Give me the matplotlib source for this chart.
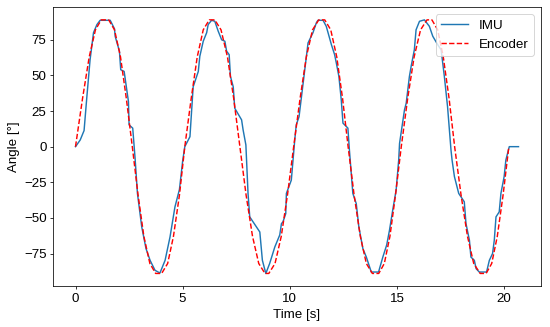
import matplotlib
matplotlib.use("Agg")
import matplotlib.pyplot as plt

plt.rcParams.update({
    "font.family": ["Liberation Sans", "DejaVu Sans"],
    "font.size": 14,
})

DPI = 69

# Encoder angle
enc_t = [0.00, 0.33, 0.64, 0.93, 1.20, 1.55,
         1.82, 2.10, 2.37, 2.65, 2.92, 3.19, 3.47, 3.74, 4.02,
         4.30, 4.57, 4.85, 5.10, 5.40, 5.68, 5.96, 6.24, 6.50,
         6.79, 7.09, 7.38, 7.67, 7.96, 8.26, 8.55, 8.84, 9.02,
         9.31, 9.60, 9.89, 10.18, 10.48, 10.77, 11.06, 11.35, 11.63,
         11.91, 12.19, 12.46, 12.72, 13.00, 13.29, 13.57, 13.85, 14.15,
         14.41, 14.67, 14.93, 15.20, 15.50, 15.80, 16.10, 16.40, 16.63,
         16.90, 17.16, 17.43, 17.69, 17.99, 18.29, 18.58, 18.88, 19.16,
         19.42, 19.68, 19.95, 20.22]
enc_deg = [0, 34, 63, 82, 89, 89,
           82, 63, 34, 0, -34, -63, -82, -89, -89,
           -82, -63, -34, 0, 34, 63, 82, 89, 89,
           82, 63, 34, 0, -34, -63, -82, -89, -89,
           -82, -63, -34, 0, 34, 63, 82, 89, 89,
           82, 63, 34, 0, -34, -63, -82, -89, -89,
           -82, -63, -34, 0, 34, 63, 82, 89, 89,
           82, 63, 34, 0, -34, -63, -82, -89, -89,
           -82, -63, -34, 0]

# IMU angle
imu_t = [0.00, 0.22, 0.40, 0.53, 0.68, 0.84, 1.00, 1.15, 1.62,
         1.82, 1.85, 2.05, 2.11, 2.27, 2.47, 2.50, 2.67, 2.78,
         2.89, 3.09, 3.29, 3.48, 3.71, 3.94, 4.18, 4.41, 4.64, 4.85,
         5.00, 5.10, 5.34, 5.42, 5.49, 5.73, 5.80, 5.96, 6.12, 6.19,
         6.35, 6.50, 6.66, 6.82, 6.97, 7.05, 7.17, 7.23, 7.36, 7.43,
         7.75, 7.82, 7.95, 7.98, 8.05, 8.13, 8.60, 8.72, 8.88, 9.06,
         9.30, 9.53, 9.61, 9.68, 9.81, 9.84, 10.07, 10.15, 10.23,
         10.30, 10.43, 10.62, 10.77, 10.85, 11.00, 11.08, 11.24, 11.31,
         11.55, 11.70, 11.94, 12.09, 12.17, 12.29, 12.40, 12.48, 12.71,
         12.78, 12.94, 13.10, 13.22, 13.41, 13.57, 13.80, 14.14, 14.34,
         14.52, 14.65, 14.80, 14.96, 15.08, 15.12, 15.35, 15.43, 15.58,
         15.66, 15.81, 15.89, 16.05, 16.28, 16.51, 16.67, 16.90, 17.06,
         17.21, 17.36, 17.52, 17.57, 17.68, 17.88, 18.14, 18.22, 18.38,
         18.45, 18.61, 18.69, 18.84, 19.18, 19.31, 19.46, 19.54, 19.62,
         19.77, 19.85, 20.00, 20.08, 20.24, 20.67]
imu_deg = [0, 4.7, 11.3, 35, 61, 80, 85.7, 88.7, 88.7,
           82.7, 77.5, 67, 54, 52.8, 31.7, 15.3, 13, -8.2,
           -32.8, -56.3, -71.6, -79.8, -86.8, -88.7, -79.8, -63.4, -42.3, -30,
           -10, 0, 7, 25.8, 42, 52.8, 63.4, 74, 80, 85.7,
           88.7, 88, 81, 75, 74, 67, 64.6, 49.3, 42, 27,
           18.8, 11.8, 1.2, -9.4, -32.8, -49.3, -59.9, -79.8, -89, -82,
           -70.4, -62, -54, -52.8, -47, -32.8, -23.5, -9.4, 4.7,
           15.3, 21, 44.6, 63.4, 72.8, 77.5, 80, 87, 88.7,
           88.7, 84.5, 71.6, 64.6, 58.7, 49.3, 32.9, 16.5, 13,
           -2.3, -32.8, -40, -56.3, -71.6, -77.5, -88, -88, -77.5,
           -69, -58.7, -44.6, -30.5, -9.4, 2.3, 25.8, 30.5, 49.3,
           56.3, 68, 82, 88, 89, 84.5, 77.5, 71.6, 68,
           49.3, 28, -2.3, -9.4, -21, -32.8, -38.7, -54, -65.7,
           -77.5, -79.8, -85.6, -88, -88, -79.8, -75, -65.7, -49.3,
           -45.8, -32.8, -21, -9.4, 0, 0]

fig, ax = plt.subplots(figsize=(550 / DPI, 327 / DPI), dpi=DPI)
fig.subplots_adjust(left=0.097, right=0.983, bottom=0.125, top=0.978)

ax.plot(imu_t, imu_deg, color="#1f77b4", linewidth=1.5, label="IMU")
ax.plot(enc_t, enc_deg, "r--", linewidth=1.5, label="Encoder")

ax.set_xlabel("Time [s]")
ax.set_ylabel("Angle [°]")
ax.set_xticks([0, 5, 10, 15, 20])
ax.set_yticks([-75, -50, -25, 0, 25, 50, 75])
ax.legend(loc="upper right")

fig.savefig("out.png", dpi=DPI)
